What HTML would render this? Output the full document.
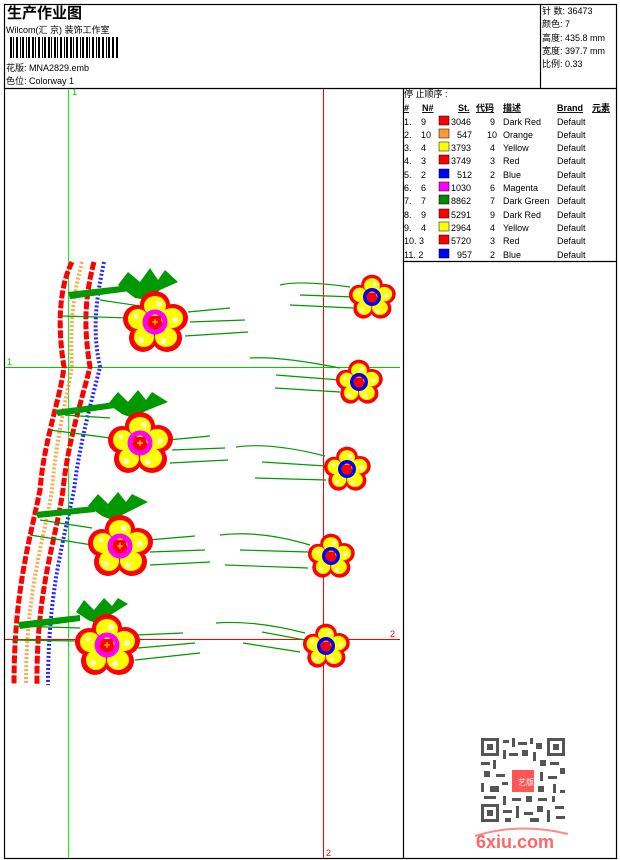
<!DOCTYPE html>
<html><head><meta charset="utf-8"><style>
body{margin:0;background:#fff;width:620px;height:860px;overflow:hidden}
svg{display:block}
text{font-family:"Liberation Sans","Noto Sans CJK SC",sans-serif;font-size:9px;fill:#000}
</style></head><body>
<svg width="620" height="860" viewBox="0 0 620 860" xmlns="http://www.w3.org/2000/svg">
<defs>
<g id="fl">
 <g fill="#f00">
  <ellipse cx="0" cy="-17" rx="15" ry="14"/>
  <ellipse cx="18" cy="-4" rx="15" ry="14"/>
  <ellipse cx="12" cy="16" rx="15" ry="14"/>
  <ellipse cx="-12" cy="16" rx="14" ry="14"/>
  <ellipse cx="-18" cy="-3" rx="14" ry="14"/>
  <circle r="16"/>
 </g>
 <g fill="#ff0">
  <ellipse cx="0" cy="-16" rx="11" ry="10"/>
  <ellipse cx="17" cy="-4" rx="11" ry="10"/>
  <ellipse cx="11" cy="15" rx="11" ry="10"/>
  <ellipse cx="-11" cy="15" rx="10" ry="10"/>
  <ellipse cx="-17" cy="-3" rx="10" ry="10"/>
 </g>
 <g fill="#fff" opacity="0.8">
  <circle cx="4" cy="-18" r="3"/><circle cx="20" cy="-2" r="3"/><circle cx="8" cy="19" r="3"/><circle cx="-14" cy="18" r="3"/><circle cx="-19" cy="-6" r="2.5"/>
 </g>
</g>
</defs>
<!-- frames -->
<g fill="none" stroke="#000" stroke-width="1.2">
<rect x="4.5" y="4.5" width="612" height="854"/>
<line x1="4" y1="88.5" x2="617" y2="88.5"/>
<line x1="540.5" y1="4" x2="540.5" y2="88"/>
<line x1="403.5" y1="88" x2="403.5" y2="859"/>
<line x1="403" y1="261.5" x2="617" y2="261.5"/>
</g>
<text x="7" y="18" style="font-size:15px;font-weight:bold">生产作业图</text>
<text x="6" y="33">Wilcom(汇 京) 装饰工作室</text>
<g fill="#000">
<rect x="10" y="37" width="2" height="21"/><rect x="13" y="37" width="1" height="21"/><rect x="16" y="37" width="2" height="21"/><rect x="20" y="37" width="1" height="21"/><rect x="22" y="37" width="2" height="21"/><rect x="26" y="37" width="1" height="21"/><rect x="28" y="37" width="2" height="21"/><rect x="32" y="37" width="2" height="21"/><rect x="35" y="37" width="1" height="21"/><rect x="38" y="37" width="2" height="21"/><rect x="42" y="37" width="1" height="21"/><rect x="44" y="37" width="2" height="21"/><rect x="48" y="37" width="2" height="21"/><rect x="51" y="37" width="1" height="21"/><rect x="54" y="37" width="2" height="21"/><rect x="57" y="37" width="1" height="21"/><rect x="60" y="37" width="2" height="21"/><rect x="64" y="37" width="1" height="21"/><rect x="66" y="37" width="2" height="21"/><rect x="70" y="37" width="2" height="21"/><rect x="73" y="37" width="1" height="21"/><rect x="76" y="37" width="2" height="21"/><rect x="80" y="37" width="1" height="21"/><rect x="82" y="37" width="2" height="21"/><rect x="86" y="37" width="2" height="21"/><rect x="89" y="37" width="1" height="21"/><rect x="92" y="37" width="2" height="21"/><rect x="96" y="37" width="1" height="21"/><rect x="98" y="37" width="2" height="21"/><rect x="102" y="37" width="2" height="21"/><rect x="106" y="37" width="1" height="21"/><rect x="108" y="37" width="2" height="21"/><rect x="112" y="37" width="2" height="21"/><rect x="116" y="37" width="2" height="21"/>
</g>
<text x="6" y="71">花版:  MNA2829.emb</text>
<text x="6" y="84">色位:  Colorway 1</text>
<text x="542" y="14">针 数: 36473</text>
<text x="542" y="27">颜色: 7</text>
<text x="542" y="41">高度: 435.8 mm</text>
<text x="542" y="54">宽度: 397.7 mm</text>
<text x="542" y="67">比例: 0.33</text>
<!-- legend -->
<text x="404" y="97">停 止顺序 :</text>
<g style="font-weight:bold;text-decoration:underline">
<text x="404" y="111">#</text><text x="422" y="111">N#</text><text x="458" y="111">St.</text><text x="476" y="111">代码</text><text x="503" y="111">描述</text><text x="557" y="111">Brand</text><text x="592" y="111">元素</text>
</g>
<g>
<text x="404" y="125">1.</text><text x="421" y="125">9</text><rect x="439" y="116" width="10" height="9" fill="#f00" stroke="#000" stroke-width=".5"/><text x="451" y="125">3046</text><text x="490" y="125">9</text><text x="503" y="125">Dark Red</text><text x="557" y="125">Default</text>
<text x="404" y="138">2.</text><text x="421" y="138">10</text><rect x="439" y="129" width="10" height="9" fill="#f93" stroke="#000" stroke-width=".5"/><text x="457" y="138">547</text><text x="487" y="138">10</text><text x="503" y="138">Orange</text><text x="557" y="138">Default</text>
<text x="404" y="151">3.</text><text x="421" y="151">4</text><rect x="439" y="142" width="10" height="9" fill="#ff0" stroke="#000" stroke-width=".5"/><text x="451" y="151">3793</text><text x="490" y="151">4</text><text x="503" y="151">Yellow</text><text x="557" y="151">Default</text>
<text x="404" y="164">4.</text><text x="421" y="164">3</text><rect x="439" y="155" width="10" height="9" fill="#f00" stroke="#000" stroke-width=".5"/><text x="451" y="164">3749</text><text x="490" y="164">3</text><text x="503" y="164">Red</text><text x="557" y="164">Default</text>
<text x="404" y="178">5.</text><text x="421" y="178">2</text><rect x="439" y="169" width="10" height="9" fill="#00f" stroke="#000" stroke-width=".5"/><text x="457" y="178">512</text><text x="490" y="178">2</text><text x="503" y="178">Blue</text><text x="557" y="178">Default</text>
<text x="404" y="191">6.</text><text x="421" y="191">6</text><rect x="439" y="182" width="10" height="9" fill="#f0f" stroke="#000" stroke-width=".5"/><text x="451" y="191">1030</text><text x="490" y="191">6</text><text x="503" y="191">Magenta</text><text x="557" y="191">Default</text>
<text x="404" y="204">7.</text><text x="421" y="204">7</text><rect x="439" y="195" width="10" height="9" fill="#080" stroke="#000" stroke-width=".5"/><text x="451" y="204">8862</text><text x="490" y="204">7</text><text x="503" y="204">Dark Green</text><text x="557" y="204">Default</text>
<text x="404" y="218">8.</text><text x="421" y="218">9</text><rect x="439" y="209" width="10" height="9" fill="#f00" stroke="#000" stroke-width=".5"/><text x="451" y="218">5291</text><text x="490" y="218">9</text><text x="503" y="218">Dark Red</text><text x="557" y="218">Default</text>
<text x="404" y="231">9.</text><text x="421" y="231">4</text><rect x="439" y="222" width="10" height="9" fill="#ff0" stroke="#000" stroke-width=".5"/><text x="451" y="231">2964</text><text x="490" y="231">4</text><text x="503" y="231">Yellow</text><text x="557" y="231">Default</text>
<text x="404" y="244">10. 3</text><rect x="439" y="235" width="10" height="9" fill="#f00" stroke="#000" stroke-width=".5"/><text x="451" y="244">5720</text><text x="490" y="244">3</text><text x="503" y="244">Red</text><text x="557" y="244">Default</text>
<text x="404" y="258">11. 2</text><rect x="439" y="249" width="10" height="9" fill="#00f" stroke="#000" stroke-width=".5"/><text x="457" y="258">957</text><text x="490" y="258">2</text><text x="503" y="258">Blue</text><text x="557" y="258">Default</text>
</g>
<!-- guide lines -->
<line x1="68.5" y1="89" x2="68.5" y2="858" stroke="#0f0"/>
<line x1="323.5" y1="89" x2="323.5" y2="858" stroke="#f00"/>
<line x1="5" y1="367.5" x2="400" y2="367.5" stroke="#0c0"/>
<line x1="5" y1="639.5" x2="400" y2="639.5" stroke="#f00"/>
<text x="72" y="95" style="fill:#0c0">1</text>
<text x="7" y="365" style="fill:#0c0">1</text>
<text x="390" y="637" style="fill:#f00">2</text>
<text x="326" y="856" style="fill:#f00">2</text>
<!-- stripes -->
<g fill="none" stroke-linecap="butt">
<path d="M72 262 C58 290,58 330,64 367 C60 400,44 440,40 490 C30 540,14 590,14 685" stroke="#f00" stroke-width="5" stroke-dasharray="8 2"/>
<path d="M82 262 C72 300,70 330,72 367 C66 400,56 440,52 490 C44 540,26 590,26 685" stroke="#f93" stroke-width="4" stroke-dasharray="2 2" opacity="0.85"/>
<path d="M94 262 C84 300,84 330,90 367 C82 400,68 440,63 490 C56 540,36 590,37 685" stroke="#f00" stroke-width="5" stroke-dasharray="8 2"/>
<path d="M104 262 C96 300,92 330,100 367 C92 400,80 440,74 490 C64 540,48 590,48 685" stroke="#00f" stroke-width="4" stroke-dasharray="2 2" opacity="0.85"/>
</g>
<!-- thin stems -->
<g fill="none" stroke="#090" stroke-width="1.2">
<path d="M100 300 L140 306"/><path d="M62 316 L130 318"/><path d="M188 312 L230 308"/><path d="M190 322 L245 320"/><path d="M185 336 L248 332"/>
<path d="M65 415 L110 418"/><path d="M50 430 L110 438"/><path d="M168 440 L210 436"/><path d="M172 450 L225 448"/><path d="M170 463 L228 460"/>
<path d="M40 520 L92 528"/><path d="M30 535 L92 545"/><path d="M148 540 L195 536"/><path d="M150 552 L205 550"/><path d="M150 565 L210 562"/>
<path d="M15 626 L80 628"/><path d="M12 640 L78 641"/><path d="M136 635 L183 633"/><path d="M138 648 L195 643"/><path d="M135 660 L200 653"/>
<path d="M280 285 Q300 280 350 287"/><path d="M300 295 L355 297"/><path d="M290 305 L353 308"/>
<path d="M250 358 Q280 356 340 368"/><path d="M276 375 L340 380"/><path d="M275 388 L340 392"/>
<path d="M236 447 Q270 442 325 456"/><path d="M262 462 L326 466"/><path d="M255 478 L326 480"/>
<path d="M220 535 Q260 530 310 545"/><path d="M240 550 L308 552"/><path d="M225 565 L308 568"/>
<path d="M216 623 Q255 620 305 633"/><path d="M262 632 L305 640"/><path d="M243 643 L300 652"/>
</g>
<!-- thick stems & leaves -->
<g fill="#090">
<path d="M68 292 L130 285 L130 291 L70 299Z"/><path d="M118 285 L128 272 L140 282 L150 268 L158 280 L165 270 L178 282 L160 290 L148 300 L135 298Z"/>
<path d="M55 410 L115 402 L115 408 L58 416Z"/><path d="M108 404 L118 392 L128 402 L138 390 L146 400 L152 392 L168 402 L148 410 L132 418 L122 414Z"/>
<path d="M35 512 L95 506 L95 512 L38 518Z"/><path d="M88 506 L98 494 L108 504 L118 492 L126 502 L132 494 L148 502 L128 512 L112 520 L102 516Z"/>
<path d="M18 622 L80 615 L80 621 L20 629Z"/><path d="M76 612 L84 600 L94 610 L104 598 L112 606 L118 598 L128 604 L112 614 L98 624 L88 620Z"/>
</g>
<!-- flowers left -->
<g transform="translate(155,322)"><use href="#fl"/><circle r="10" fill="none" stroke="#f0f" stroke-width="5"/><circle r="6" fill="#f00"/><path d="M-3 0H3M0 -3V3" stroke="#ff0"/></g>
<g transform="translate(140,443)"><use href="#fl"/><circle r="10" fill="none" stroke="#f0f" stroke-width="5"/><circle r="6" fill="#f00"/><path d="M-3 0H3M0 -3V3" stroke="#ff0"/></g>
<g transform="translate(120,546)"><use href="#fl"/><circle r="10" fill="none" stroke="#f0f" stroke-width="5"/><circle r="6" fill="#f00"/><path d="M-3 0H3M0 -3V3" stroke="#ff0"/></g>
<g transform="translate(107,645)"><use href="#fl"/><circle r="10" fill="none" stroke="#f0f" stroke-width="5"/><circle r="6" fill="#f00"/><path d="M-3 0H3M0 -3V3" stroke="#ff0"/></g>
<!-- flowers right -->
<g transform="translate(372,297) scale(0.72)"><use href="#fl"/><circle r="10" fill="none" stroke="#00f" stroke-width="5"/><circle r="6" fill="#f00"/></g>
<g transform="translate(359,382) scale(0.72)"><use href="#fl"/><circle r="10" fill="none" stroke="#00f" stroke-width="5"/><circle r="6" fill="#f00"/></g>
<g transform="translate(347,469) scale(0.72)"><use href="#fl"/><circle r="10" fill="none" stroke="#00f" stroke-width="5"/><circle r="6" fill="#f00"/></g>
<g transform="translate(331,556) scale(0.72)"><use href="#fl"/><circle r="10" fill="none" stroke="#00f" stroke-width="5"/><circle r="6" fill="#f00"/></g>
<g transform="translate(326,646) scale(0.72)"><use href="#fl"/><circle r="10" fill="none" stroke="#00f" stroke-width="5"/><circle r="6" fill="#f00"/></g>
<!-- QR -->
<g fill="#555">
<rect x="481" y="738" width="18" height="18"/><rect x="484" y="741" width="12" height="12" fill="#fff"/><rect x="487" y="744" width="6" height="6"/>
<rect x="547" y="738" width="18" height="18"/><rect x="550" y="741" width="12" height="12" fill="#fff"/><rect x="553" y="744" width="6" height="6"/>
<rect x="481" y="804" width="18" height="18"/><rect x="484" y="807" width="12" height="12" fill="#fff"/><rect x="487" y="810" width="6" height="6"/>
<rect x="503" y="740" width="6" height="3"/><rect x="512" y="738" width="3" height="9"/><rect x="518" y="742" width="9" height="3"/><rect x="530" y="738" width="3" height="6"/><rect x="536" y="743" width="6" height="6"/>
<rect x="503" y="750" width="3" height="9"/><rect x="509" y="753" width="9" height="3"/><rect x="522" y="750" width="6" height="6"/><rect x="533" y="752" width="3" height="9"/>
<rect x="481" y="762" width="9" height="3"/><rect x="493" y="760" width="3" height="9"/><rect x="540" y="760" width="6" height="6"/><rect x="550" y="762" width="9" height="3"/><rect x="560" y="768" width="5" height="6"/>
<rect x="484" y="771" width="6" height="6"/><rect x="496" y="774" width="9" height="3"/><rect x="540" y="772" width="3" height="9"/><rect x="548" y="776" width="9" height="3"/>
<rect x="481" y="783" width="3" height="9"/><rect x="490" y="786" width="9" height="6"/><rect x="502" y="782" width="6" height="3"/><rect x="538" y="786" width="6" height="6"/><rect x="553" y="784" width="3" height="9"/><rect x="560" y="790" width="5" height="3"/>
<rect x="484" y="796" width="12" height="3"/><rect x="503" y="796" width="3" height="9"/><rect x="512" y="798" width="9" height="3"/><rect x="526" y="796" width="6" height="6"/><rect x="538" y="798" width="9" height="3"/><rect x="552" y="796" width="3" height="6"/>
<rect x="503" y="810" width="9" height="3"/><rect x="516" y="806" width="3" height="12"/><rect x="524" y="812" width="9" height="3"/><rect x="537" y="806" width="6" height="6"/><rect x="547" y="810" width="3" height="12"/><rect x="555" y="806" width="9" height="3"/><rect x="556" y="816" width="9" height="3"/>
<rect x="505" y="818" width="6" height="4"/><rect x="530" y="818" width="9" height="4"/>
</g>
<rect x="512" y="770" width="22" height="22" fill="#f55"/>
<text x="518" y="785" style="fill:#fff;font-size:8px">艺版</text>
<path d="M475 836 Q520 822 568 834" stroke="#f88" stroke-width="2" fill="none"/>
<text x="476" y="848" style="fill:#f66;font-size:18px;font-weight:bold">6xiu.com</text>
</svg>
</body></html>
